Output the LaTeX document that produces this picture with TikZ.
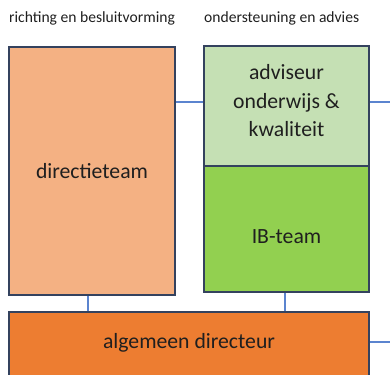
\documentclass[tikz,border=0pt]{standalone}
\usepackage{fontspec}
\setmainfont{Carlito}
\usetikzlibrary{calc}
\definecolor{dtfill}{HTML}{F4B183}
\definecolor{advfill}{HTML}{C5E0B4}
\definecolor{ibfill}{HTML}{92D050}
\definecolor{adfill}{HTML}{ED7D31}
\definecolor{edge}{HTML}{34425E}
\definecolor{conn}{HTML}{5B84CF}
\definecolor{txt}{HTML}{1F1F1F}
\tikzset{
  box/.style={draw=edge, line width=2pt, rectangle, inner sep=0pt},
  boxtext/.style={inner sep=0pt, align=center, text=txt, font=\fontsize{21.7}{28.5}\selectfont},
  hdr/.style={anchor=west, inner sep=0pt, text=txt, font=\fontsize{15.6}{18}\selectfont},
  link/.style={draw=conn, line width=1.6pt}
}
\begin{document}
\begin{tikzpicture}[x=1pt,y=-1pt]
\useasboundingbox (0,0) rectangle (390,374);
\clip (0,0) rectangle (390,374);
\node[hdr] (h1) at (9,18) {richting en besluitvorming};
\node[hdr] (h2) at (204,18) {ondersteuning en advies};
\node[box, fill=dtfill, minimum width=166pt, minimum height=248pt,
  label={[boxtext, yshift=0pt]center:directieteam}] (dt) at (92,171) {};
\node[box, fill=advfill, minimum width=165pt, minimum height=120pt,
  label={[boxtext, yshift=5pt]center:adviseur\\onderwijs \&\\kwaliteit}] (adv) at (286.5,106) {};
\node[box, fill=ibfill, minimum width=165pt, minimum height=126pt,
  label={[boxtext, yshift=-8pt]center:IB-team}] (ib) at (286.5,229) {};
\node[box, fill=adfill, minimum width=360pt, minimum height=66pt,
  label={[boxtext, yshift=2pt]center:algemeen directeur}] (ad) at (189,345) {};
\coordinate (r1) at (390,102);
\coordinate (r2) at (390,342);
\draw[link] ($(adv.west)+(0,-4)$) -- ($(adv.west -| dt.east)+(0,-4)$);
\draw[link] ($(adv.east)+(0,-4)$) -- (r1);
\draw[link] ($(ad.east)+(0,-3)$) -- (r2);
\draw[link] (dt.south -| 88,0) -- (ad.north -| 88,0);
\draw[link] (ib.south -| 285,0) -- (ad.north -| 285,0);
\end{tikzpicture}
\end{document}
